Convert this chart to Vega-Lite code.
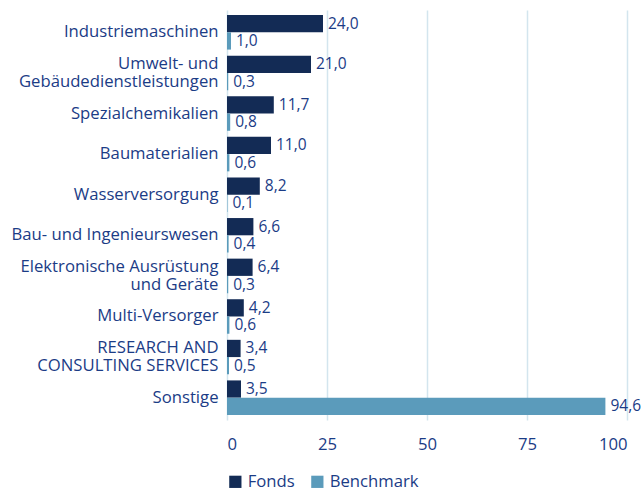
{
  "$schema": "https://vega.github.io/schema/vega-lite/v6.json",
  "width": 400,
  "height": 410,
  "autosize": "none",
  "padding": {"left": 227, "top": 10, "right": 17, "bottom": 71},
  "config": {
    "locale": {"number": {"decimal": ",", "thousands": ".", "grouping": [3], "currency": ["", " €"]}},
    "view": {"stroke": null},
    "font": "Open Sans"
  },
  "data": {
    "values": [
      {"sector": "Industriemaschinen", "series": "Fonds", "value": 24.0},
      {"sector": "Industriemaschinen", "series": "Benchmark", "value": 1.0},
      {"sector": "Umwelt- und\nGebäudedienstleistungen", "series": "Fonds", "value": 21.0},
      {"sector": "Umwelt- und\nGebäudedienstleistungen", "series": "Benchmark", "value": 0.3},
      {"sector": "Spezialchemikalien", "series": "Fonds", "value": 11.7},
      {"sector": "Spezialchemikalien", "series": "Benchmark", "value": 0.8},
      {"sector": "Baumaterialien", "series": "Fonds", "value": 11.0},
      {"sector": "Baumaterialien", "series": "Benchmark", "value": 0.6},
      {"sector": "Wasserversorgung", "series": "Fonds", "value": 8.2},
      {"sector": "Wasserversorgung", "series": "Benchmark", "value": 0.1},
      {"sector": "Bau- und Ingenieurswesen", "series": "Fonds", "value": 6.6},
      {"sector": "Bau- und Ingenieurswesen", "series": "Benchmark", "value": 0.4},
      {"sector": "Elektronische Ausrüstung\nund Geräte", "series": "Fonds", "value": 6.4},
      {"sector": "Elektronische Ausrüstung\nund Geräte", "series": "Benchmark", "value": 0.3},
      {"sector": "Multi-Versorger", "series": "Fonds", "value": 4.2},
      {"sector": "Multi-Versorger", "series": "Benchmark", "value": 0.6},
      {"sector": "RESEARCH AND\nCONSULTING SERVICES", "series": "Fonds", "value": 3.4},
      {"sector": "RESEARCH AND\nCONSULTING SERVICES", "series": "Benchmark", "value": 0.5},
      {"sector": "Sonstige", "series": "Fonds", "value": 3.5},
      {"sector": "Sonstige", "series": "Benchmark", "value": 94.6}
    ]
  },
  "encoding": {
    "y": {
      "field": "sector", "type": "nominal", "sort": null,
      "scale": {"paddingInner": 0.15, "paddingOuter": 0.125},
      "axis": {
        "title": null, "ticks": false, "domain": false, "labelPadding": 9,
        "labelFontSize": 16.7, "labelColor": "#1B3C86", "labelLineHeight": 18.5,
        "labelExpr": "split(datum.label, '\\n')", "labelLimit": 300,
        "labelOffset": {"condition": {"test": "indexof(datum.value, '\\n') >= 0", "value": -9.25}, "value": 0}
      }
    },
    "yOffset": {"field": "series", "type": "nominal", "sort": ["Fonds", "Benchmark"], "scale": {"paddingInner": 0, "paddingOuter": 0}},
    "x": {
      "field": "value", "type": "quantitative",
      "scale": {"domain": [0, 100], "nice": false},
      "axis": {
        "title": null, "values": [0, 25, 50, 75, 100], "ticks": false, "domain": false,
        "grid": true, "gridColor": "#D3E5EE", "gridWidth": 1.5,
        "labelFontSize": 16.7, "labelColor": "#1B3C86", "labelPadding": 16
      }
    }
  },
  "layer": [
    {
      "mark": {"type": "bar"},
      "encoding": {
        "color": {
          "field": "series", "type": "nominal",
          "scale": {"domain": ["Fonds", "Benchmark"], "range": ["#132B55", "#5B9BBB"]},
          "legend": {
            "title": null, "orient": "bottom", "direction": "horizontal",
            "symbolType": "square", "symbolSize": 150, "labelFontSize": 16.7,
            "labelColor": "#1B3C86", "offset": 20, "columnPadding": 14, "symbolOffset": 0
          }
        }
      }
    },
    {
      "mark": {"type": "text", "align": "left", "baseline": "middle", "dx": 5, "fontSize": 15.5, "color": "#1B3C86"},
      "encoding": {
        "text": {"field": "value", "type": "quantitative", "format": ".1f"}
      }
    }
  ]
}
